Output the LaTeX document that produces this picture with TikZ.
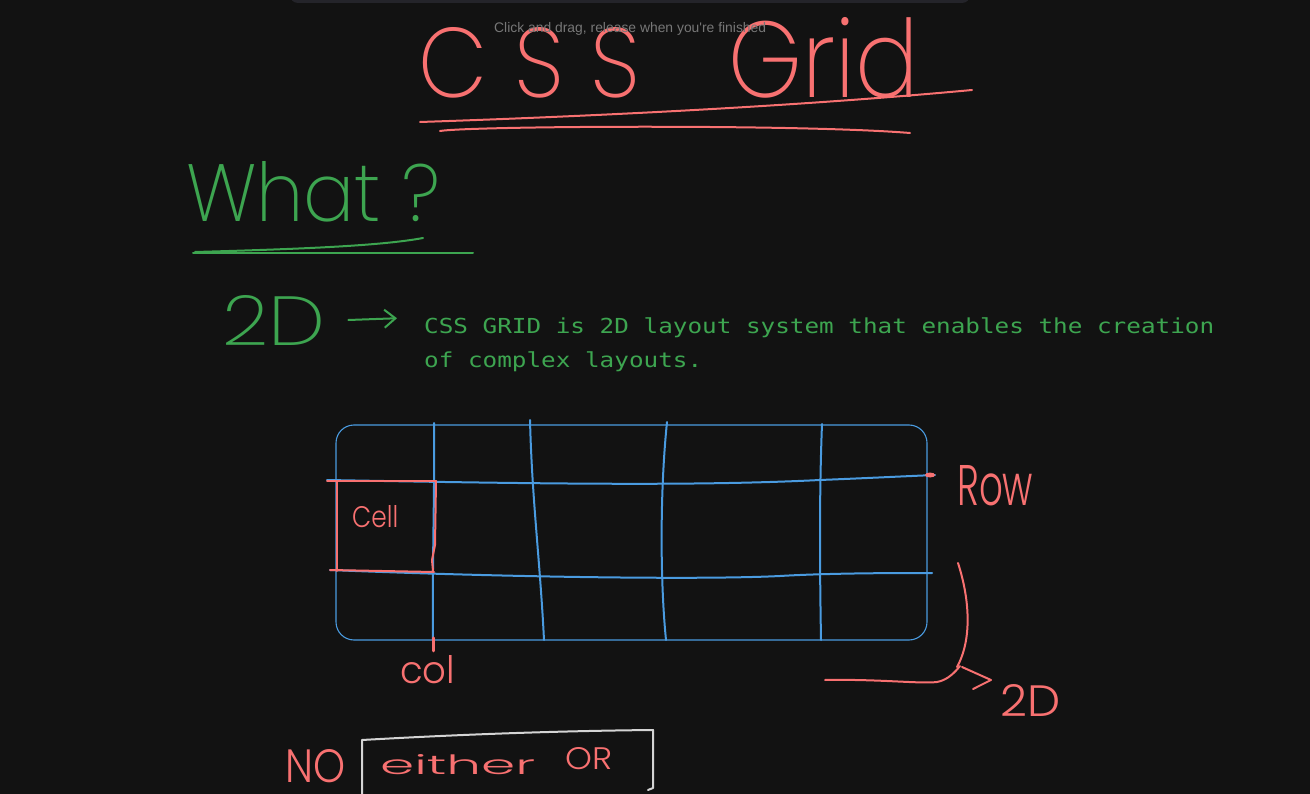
\documentclass[tikz,border=0pt]{standalone}
\usepackage{fontspec}
\usepackage{graphicx}
\usetikzlibrary{arrows.meta}
\newfontfamily\hand{Poppins Light}
\newfontfamily\handthin{Poppins ExtraLight}
\newfontfamily\monofnt{DejaVu Sans Mono}
\newfontfamily\uifont{Liberation Sans}
\definecolor{bg}{HTML}{121212}
\definecolor{pen}{HTML}{F87171}
\definecolor{gpen}{HTML}{3DA550}
\definecolor{bpen}{HTML}{4A9BE0}
\definecolor{hint}{HTML}{777777}
\definecolor{bar}{HTML}{24242A}
\definecolor{wpen}{HTML}{D4D4D4}
\begin{document}
\begin{tikzpicture}[x=1pt,y=-1pt,
  redpen/.style={draw=pen,line width=2pt,line cap=round,line join=round},
  greenpen/.style={draw=gpen,line width=2pt,line cap=round,line join=round},
  bluepen/.style={draw=bpen,line width=2pt,line cap=round,line join=round},
  bluethin/.style={draw=bpen,line width=1.1pt},
  whitepen/.style={draw=wpen,line width=2pt,line cap=round,line join=round},
  hw/.style={inner sep=0pt,anchor=base west},
]
\fill[bg] (0,0) rectangle (1310,794);
\useasboundingbox (0,0) rectangle (1310,794);
\fill[bar,rounded corners=8pt] (290,-14) rectangle (970,3);

% texts
\node[hw,text=pen] (title) at (418,98) {\resizebox{222pt}{70pt}{\handthin\addfontfeatures{LetterSpace=30}CSS}\hspace{88pt}\resizebox{190pt}{80pt}{\handthin Grid}};
\node[hw,text=hint] (hint) at (494,33) {\resizebox{272pt}{!}{\uifont Click and drag, release when you're finished}};
\node[hw,text=gpen] (what) at (186,222) {\resizebox{254pt}{60pt}{\handthin What ?}};
\node[hw,text=gpen] (g2d) at (222,345) {\resizebox{103pt}{50pt}{\handthin 2D}};
\node[hw,text=gpen] (desc1) at (424,334) {\scalebox{1}[0.85]{\fontsize{24.3}{30}\monofnt CSS GRID is 2D layout system that enables the creation}};
\node[hw,text=gpen] (desc2) at (424,368) {\scalebox{1}[0.85]{\fontsize{24.3}{30}\monofnt of complex layouts.}};
\node[hw,text=pen] (cell) at (352,527) {\resizebox{46pt}{22pt}{\hand Cell}};
\node[hw,text=pen] (col) at (400,683) {\resizebox{55pt}{28pt}{\hand col}};
\node[hw,text=pen] (row) at (957,505) {\resizebox{76pt}{40pt}{\hand Row}};
\node[hw,text=pen] (r2d) at (1000,716) {\resizebox{60pt}{32pt}{\hand 2D}};
\node[hw,text=pen] (no) at (285,782) {\resizebox{60pt}{33pt}{\hand NO}};
\node[hw,text=pen] (either) at (380,774) {\resizebox{155pt}{20pt}{\hand either}};
\node[hw,text=pen] (or) at (565,769) {\resizebox{47pt}{22pt}{\hand OR}};

% title underlines
\draw[redpen] (420,122) .. controls (600,116) and (800,106) .. (972,90);
\draw[redpen] (440,131) .. controls (470,126) and (800,124) .. (910,133);
% what underlines
\draw[greenpen] (193,253) -- (473,253);
\draw[greenpen] (195,252) .. controls (300,249) and (380,246) .. (423,238);
% 2D arrow
\draw[greenpen,-{Straight Barb[length=11pt,width=18pt]}] ([xshift=23pt]g2d.east) -- ([xshift=-27pt,yshift=10pt]desc1.west);

% grid
\draw[bluethin,rounded corners=18pt] (336,425) rectangle (927,640);
\draw[bluepen] (434,423) .. controls (435,480) and (432,570) .. (433,640);
\draw[bluepen] (530,420) .. controls (532,500) and (540,560) .. (544,640);
\draw[bluepen] (667,422) .. controls (660,490) and (660,580) .. (666,640);
\draw[bluepen] (822,424) .. controls (819,500) and (820,580) .. (821,640);
\draw[bluepen] (327,480) .. controls (550,484) and (700,486) .. (820,480) .. controls (870,478) and (910,476) .. (935,475);
\draw[bluepen] (330,570) .. controls (500,577) and (700,580) .. (780,576) .. controls (830,573) and (900,573) .. (932,573);
\fill[pen] (930,475) ellipse (5pt and 2.5pt);

% cell box
\draw[redpen] (327,481) -- (436,481);
\draw[redpen] (337,481) -- (337,571);
\draw[redpen] (436,481) -- (435,545) -- (432,560) -- (433,571);
\draw[redpen] (330,570) -- (434,572);
% col tick
\draw[redpen,line width=3pt] ([xshift=6pt,yshift=4pt]col.north) -- ([xshift=6pt,yshift=17pt]col.north);

% bracket and arrow to 2D
\draw[redpen] (958,563) .. controls (970,600) and (972,640) .. (957,667);
\draw[redpen] (825,680) .. controls (880,679) and (920,684) .. (937,682) .. controls (948,680) and (955,672) .. (960,666);
\draw[redpen] (962,667) -- ([xshift=-9pt,yshift=20pt]r2d.west) -- (973,689);

% either/or box
\draw[whitepen] (362,800) -- (362,740) .. controls (450,735) and (550,731) .. (653,730) -- (653,788) -- (648,790);
\end{tikzpicture}
\end{document}
